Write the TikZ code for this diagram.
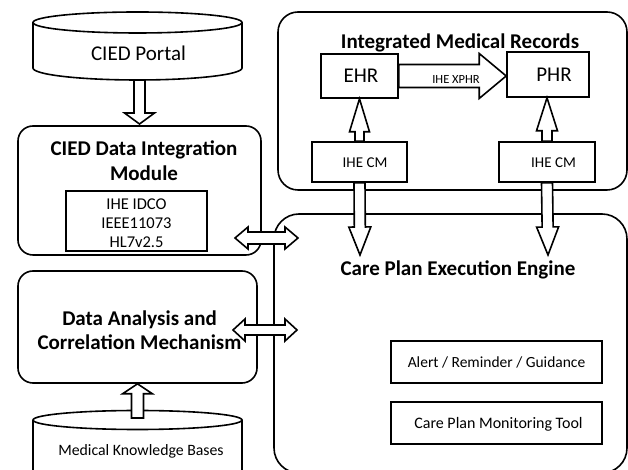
\documentclass[tikz,border=0pt]{standalone}
\usepackage{fontspec}
\setmainfont{Carlito}
\usetikzlibrary{calc}
\tikzset{
  ln/.style={line width=1.6pt, draw=black},
  rbox/.style={ln, rectangle, inner sep=0pt},
  sbox/.style={ln, rectangle, fill=white, inner sep=0pt},
  barrow/.style={ln, fill=white, line join=miter},
  plain/.style={inner sep=0pt, align=center},
}
\newcommand\fs[1]{\fontsize{#1}{#1}\selectfont}
% single block arrow: from #1 to #2, shaft half width #3, head half width #4, head length #5
\newcommand\blockarrow[5]{%
  \coordinate (ba-c) at ($(#2)!#5!(#1)$);
  \draw[barrow] ($(#1)!#3!90:(#2)$) -- ($(ba-c)!#3!90:(#2)$) -- ($(ba-c)!#4!90:(#2)$) -- (#2)
    -- ($(ba-c)!#4!-90:(#2)$) -- ($(ba-c)!#3!-90:(#2)$) -- ($(#1)!#3!-90:(#2)$) -- cycle;}
% double block arrow
\newcommand\dblarrow[5]{%
  \coordinate (da-a) at ($(#1)!#5!(#2)$);
  \coordinate (da-b) at ($(#2)!#5!(#1)$);
  \draw[barrow] (#1) -- ($(da-a)!#4!90:(#2)$) -- ($(da-a)!#3!90:(#2)$) -- ($(da-b)!#3!90:(#2)$)
    -- ($(da-b)!#4!90:(#2)$) -- (#2) -- ($(da-b)!#4!-90:(#2)$) -- ($(da-b)!#3!-90:(#2)$)
    -- ($(da-a)!#3!-90:(#2)$) -- ($(da-a)!#4!-90:(#2)$) -- cycle;}
\begin{document}
\begin{tikzpicture}[x=1pt,y=1pt]
\useasboundingbox (0,0) rectangle (628,470);
\clip (0,0) rectangle (628,470);
\fill[white] (0,0) rectangle (628,470);

% ---------- CIED Portal (cylinder)
\draw[ln] (33,447.5) -- (33,402) arc[start angle=180,end angle=360,x radius=104.5pt,y radius=12pt] -- (242,447.5);
\draw[ln] (137.5,447.5) ellipse[x radius=104.5pt,y radius=10.5pt];
\node[plain, font=\fs{21}] (portal) at (138.5,417) {CIED Portal};
\coordinate (portalbot) at (139.5,390);

% ---------- CIED Data Integration Module
\node[rbox, rounded corners=15pt, minimum width=243pt, minimum height=129pt] (cied) at (139.5,279.5) {};
\node[plain, font=\bfseries\fs{21}, text depth=0pt] (ciedtitle) at (144,309.5) {CIED Data Integration\\[4pt]Module};
\node[sbox, minimum width=141pt, minimum height=60pt] (std) at (136.5,249) {};
\node[plain, font=\fontsize{16.5}{19}\selectfont] (stdtext) at (136.5,246.5) {IHE IDCO\\IEEE11073\\HL7v2.5};

% ---------- Data Analysis and Correlation Mechanism
\node[rbox, rounded corners=15pt, minimum width=239pt, minimum height=112pt] (data) at (137.5,143) {};
\node[plain, font=\bfseries\fontsize{21}{24.5}\selectfont] (datatitle) at (139.5,140) {Data Analysis and\\Correlation Mechanism};

% ---------- Medical Knowledge Bases (cylinder)
\draw[ln] (33,50) -- (33,-20);
\draw[ln] (242,50) -- (242,-20);
\draw[ln] (137.5,50) ellipse[x radius=104.5pt,y radius=9.5pt];
\node[plain, font=\fs{15.8}] (mkb) at (141,18.5) {Medical Knowledge Bases};
\coordinate (mkbtop) at (137.5,52);

% ---------- Integrated Medical Records
\node[rbox, rounded corners=20pt, minimum width=349pt, minimum height=178pt] (imr) at (452.5,369) {};
\node[plain, font=\bfseries\fs{21}] (imrtitle) at (460,427) {Integrated Medical Records};
\node[sbox, minimum width=77pt, minimum height=44pt] (ehr) at (359.5,394) {};
\node[plain, font=\fs{21}] at (361,394) {EHR};
\node[sbox, minimum width=82pt, minimum height=45pt] (phr) at (548,395.5) {};
\node[plain, font=\fs{21}] at (554,395.5) {PHR};
\node[sbox, minimum width=95pt, minimum height=40pt] (cml) at (359.5,308) {};
\node[plain, font=\fs{15}] at (365,307.5) {IHE CM};
\node[sbox, minimum width=96pt, minimum height=40pt] (cmr) at (547,308) {};
\node[plain, font=\fs{15}] at (553.5,307.5) {IHE CM};

% ---------- Care Plan Execution Engine
\node[rbox, rounded corners=25pt, minimum width=353pt, minimum height=259pt] (engine) at (450.5,126.5) {};
\node[plain, font=\bfseries\fs{21}] (enginetitle) at (458,200) {Care Plan Execution Engine};
\node[sbox, minimum width=211pt, minimum height=42pt] (alert) at (496.5,108) {};
\node[plain, font=\fs{15.5}] at (496.5,108) {Alert / Reminder / Guidance};
\node[sbox, minimum width=211pt, minimum height=42pt] (monitor) at (496.5,47) {};
\node[plain, font=\fs{16}] at (498.5,46) {Care Plan Monitoring Tool};

% ---------- connectors (block arrows)
\coordinate (ciedtop) at (139.5,346);
\blockarrow{portalbot}{ciedtop}{5.5pt}{15pt}{11pt}
\blockarrow{mkbtop}{data.south}{6pt}{15pt}{10pt}
\blockarrow{ehr.east}{ehr.east -| phr.west}{11.5pt}{22.5pt}{27pt}
\node[plain, font=\fs{12.5}] (xphr) at (456,390.5) {IHE XPHR};
\blockarrow{cml.north}{cml.north |- ehr.south}{4.5pt}{10pt}{33pt}
\blockarrow{cmr.north}{cmr.north |- phr.south}{5pt}{10.5pt}{33pt}
\coordinate (tipl) at (360,215);
\coordinate (tipr) at (548,215);
\blockarrow{cml.south}{tipl}{5.5pt}{11pt}{28pt}
\blockarrow{cmr.south}{tipr}{5.5pt}{11pt}{28pt}
\coordinate (d1a) at (235,232);
\coordinate (d1b) at (298,232);
\dblarrow{d1a}{d1b}{6pt}{11pt}{13pt}
\coordinate (d2a) at (233,140);
\coordinate (d2b) at (297,140);
\dblarrow{d2a}{d2b}{5pt}{11pt}{12pt}
\end{tikzpicture}
\end{document}
